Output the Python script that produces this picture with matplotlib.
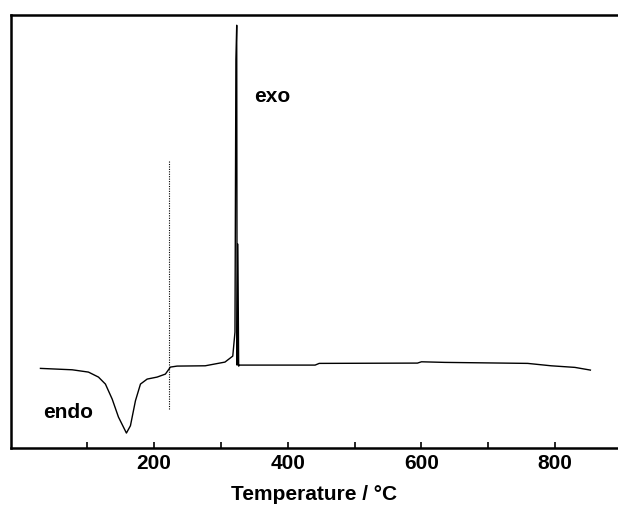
import numpy as np
import matplotlib.pyplot as plt
from matplotlib.ticker import FixedLocator

# DSC trace (heat flow in arbitrary units)
temp = [30, 77.5, 101.8, 116.8, 127.2, 137.3, 146.7, 158.6, 164.6, 172.1, 179.6,
        189.6, 204.5, 216.9, 224.4, 234.4,
        276.5, 306, 317.7, 321, 322.4, 323.6, 324.2, 325.3, 326.5, 328,
        440.9, 447, 594, 600, 635, 758.8, 794, 829.5, 852.7]
heat = [0.07, -0.07, -0.3, -0.8, -1.5, -3.0, -4.8, -6.4, -5.67, -3.17, -1.5,
        -1.0, -0.8, -0.5, 0.2, 0.3,
        0.33, 0.7, 1.3, 3.7, 31.0, 34.4, 0.4, 12.5, 0.3, 0.4,
        0.4, 0.57, 0.6, 0.73, 0.67, 0.57, 0.33, 0.17, -0.1]

marker_temp = 222
marker_range = [-4.0, 20.8]

xticks = [200, 400, 600, 800]
xminor = [100, 300, 500, 700]

plt.rcParams['font.family'] = ['Liberation Sans', 'DejaVu Sans']

fig = plt.figure(figsize=(6.18, 5.08), dpi=100)
ax = fig.add_axes([0.0170, 0.118, 0.983, 0.852])

ax.plot(temp, heat, color='black', lw=1.0)
ax.plot([marker_temp, marker_temp], marker_range, color='black', lw=0.8, ls=(0, (1, 1.2)))

ax.text(34, -4.3, 'endo', fontsize=15, fontweight='bold', va='center', ha='left')
ax.text(350, 27.3, 'exo', fontsize=15, fontweight='bold', va='center', ha='left')

ax.set_xlim(-14.8, 894)
ax.set_ylim(-7.9, 35.4)

ax.set_xticks(xticks)
ax.xaxis.set_minor_locator(FixedLocator(xminor))
ax.tick_params(axis='x', which='both', direction='in', length=4, width=1.2,
               labelsize=15, pad=4)
for lab in ax.get_xticklabels():
    lab.set_fontweight('bold')
ax.set_yticks([])

for side in ['left', 'bottom', 'top']:
    ax.spines[side].set_linewidth(1.8)
ax.spines['right'].set_visible(False)

ax.set_xlabel('Temperature / °C', fontsize=15, fontweight='bold', labelpad=9)

fig.savefig('out.png', dpi=100)
